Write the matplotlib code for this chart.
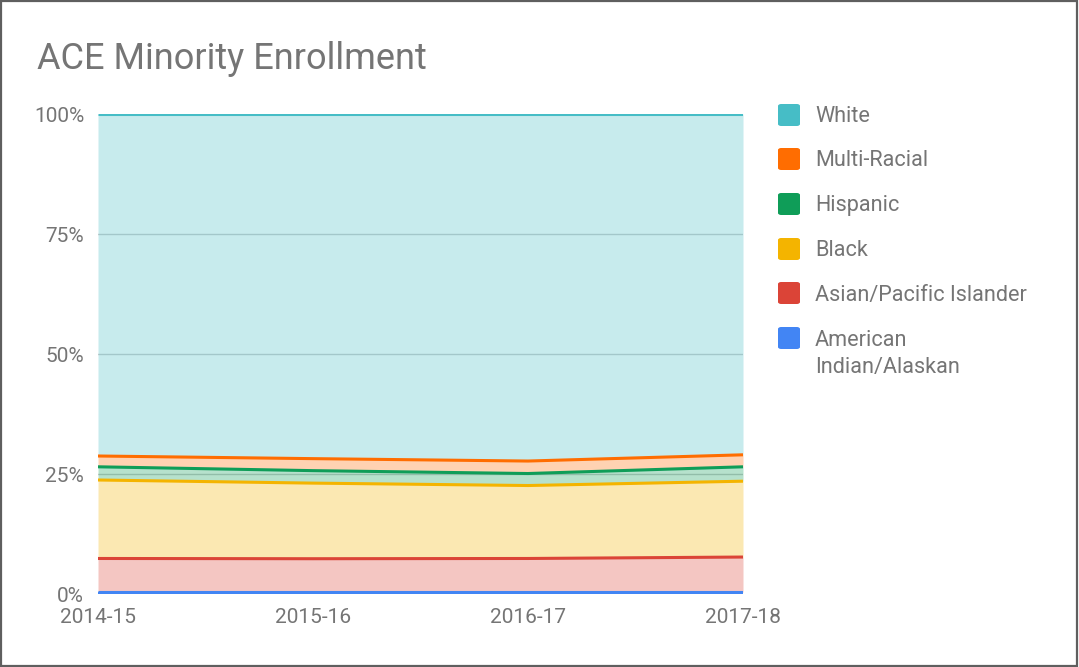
import matplotlib
matplotlib.use('Agg')
import matplotlib.pyplot as plt
import numpy as np
from matplotlib.patches import Rectangle, FancyBboxPatch

# enrollment share by year (percent)
years = ['2014-15', '2015-16', '2016-17', '2017-18']
american_indian = [0.4, 0.4, 0.4, 0.4]
asian_pi = [7.0, 6.95, 7.0, 7.3]
black = [16.35, 15.75, 15.2, 15.8]
hispanic = [2.75, 2.6, 2.5, 3.0]
multi_racial = [2.25, 2.5, 2.6, 2.5]
white = [71.25, 71.8, 72.3, 71.0]

series = [
    ('American\nIndian/Alaskan', american_indian, '#4285f4'),
    ('Asian/Pacific Islander', asian_pi, '#db4437'),
    ('Black', black, '#f4b400'),
    ('Hispanic', hispanic, '#0f9d58'),
    ('Multi-Racial', multi_racial, '#ff6d01'),
    ('White', white, '#46bdc6'),
]

plt.rcParams['font.family'] = ['Roboto', 'DejaVu Sans']
text_color = '#757575'

fig = plt.figure(figsize=(10.79, 6.67), dpi=100)
ax = fig.add_axes([98 / 1079, 1 - 594 / 667, (743 - 98) / 1079, (594 - 114) / 667])

x = np.arange(len(years))
vals = np.array([s[1] for s in series], dtype=float)
vals = vals / vals.sum(axis=0) * 100
cum = np.cumsum(vals, axis=0)

# gridlines under the fills
for g in [25, 50, 75]:
    ax.axhline(g, color='#cccccc', lw=1, zorder=0)

bottom = np.zeros(len(years))
for i, (name, _, color) in enumerate(series):
    top = cum[i]
    ax.fill_between(x, bottom, top, color=color, alpha=0.3, lw=0, zorder=1)
    ax.plot(x, top, color=color, lw=2.2, zorder=3, solid_capstyle='butt')
    bottom = top
# baseline of the first series
ax.plot(x, np.zeros(len(years)) + 0.15, color=series[0][2], lw=2.2, zorder=3)

ax.set_xlim(0, len(years) - 1)
ax.set_ylim(0, 100)
ax.set_xticks(x)
ax.set_xticklabels(years)
ax.set_yticks([0, 25, 50, 75, 100])
ax.set_yticklabels(['0%', '25%', '50%', '75%', '100%'])
ax.tick_params(axis='both', length=0, labelsize=15, labelcolor=text_color)
ax.tick_params(axis='x', pad=10)
ax.tick_params(axis='y', pad=10)
for sp in ax.spines.values():
    sp.set_visible(False)

fig.text(37 / 1079, 1 - 59 / 667, 'ACE Minority Enrollment', fontsize=26,
         color=text_color, va='center', ha='left')

# legend, top to bottom
legend_rows = list(reversed(series))
row_y = [115, 159, 204, 249, 293, 338]
for (name, _, color), py in zip(legend_rows, row_y):
    fig.add_artist(FancyBboxPatch(((778) / 1079, 1 - (py + 11) / 667), 22 / 1079, 22 / 667,
                                  boxstyle='round,pad=0,rounding_size=0.003',
                                  transform=fig.transFigure, facecolor=color, edgecolor='none'))
    fig.text(815 / 1079, 1 - (py + 2) / 667, name.split('\n')[0], fontsize=15.6,
             color=text_color, va='center', ha='left')
    if '\n' in name:
        fig.text(815 / 1079, 1 - (py + 29) / 667, name.split('\n')[1], fontsize=15.6,
                 color=text_color, va='center', ha='left')

# outer frame
fig.add_artist(Rectangle((0.001, 0.002), 0.997, 0.996, transform=fig.transFigure,
                         fill=False, edgecolor='#5f5f5f', lw=1.6))

fig.savefig('out.png', dpi=100)
